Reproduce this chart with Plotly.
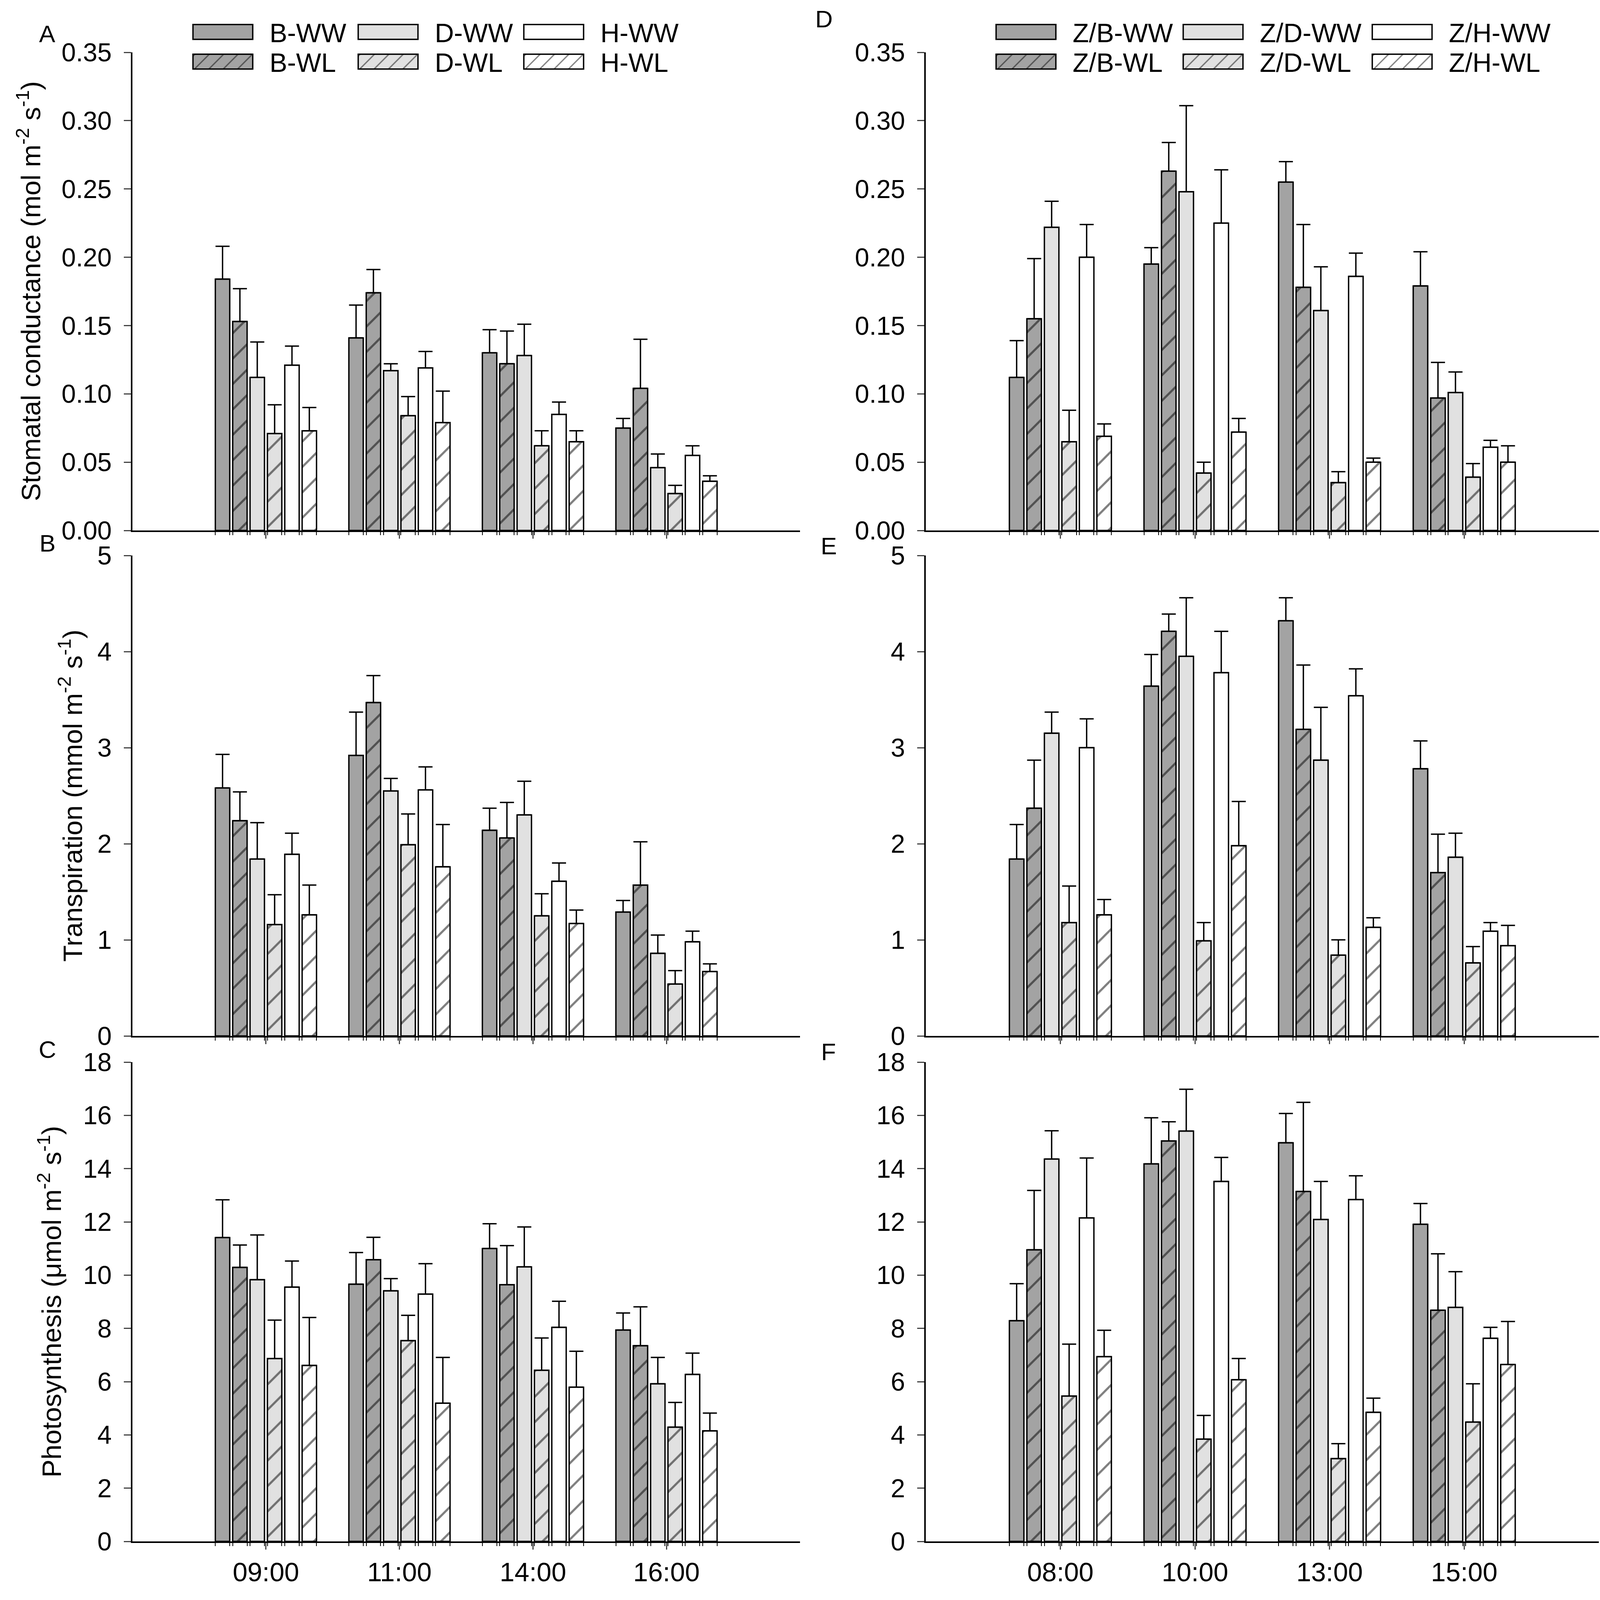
import plotly.graph_objects as go

# ---------------- data ----------------
SERIES_LEFT = ["B-WW", "B-WL", "D-WW", "D-WL", "H-WW", "H-WL"]
SERIES_RIGHT = ["Z/B-WW", "Z/B-WL", "Z/D-WW", "Z/D-WL", "Z/H-WW", "Z/H-WL"]
TIMES_LEFT = ["09:00", "11:00", "14:00", "16:00"]
TIMES_RIGHT = ["08:00", "10:00", "13:00", "15:00"]

# rows = series (WW/WL for B, D, H), columns = time points
gs_left = [
    [0.184, 0.141, 0.130, 0.075],
    [0.153, 0.174, 0.122, 0.104],
    [0.112, 0.117, 0.128, 0.046],
    [0.071, 0.084, 0.062, 0.027],
    [0.121, 0.119, 0.085, 0.055],
    [0.073, 0.079, 0.065, 0.036],
]
gs_left_err = [
    [0.024, 0.024, 0.017, 0.007],
    [0.024, 0.017, 0.024, 0.036],
    [0.026, 0.005, 0.023, 0.010],
    [0.021, 0.014, 0.011, 0.006],
    [0.014, 0.012, 0.009, 0.007],
    [0.017, 0.023, 0.008, 0.004],
]
tr_left = [
    [2.58, 2.92, 2.14, 1.29],
    [2.24, 3.47, 2.06, 1.57],
    [1.84, 2.55, 2.30, 0.86],
    [1.16, 1.99, 1.25, 0.54],
    [1.89, 2.56, 1.61, 0.98],
    [1.26, 1.76, 1.17, 0.67],
]
tr_left_err = [
    [0.35, 0.45, 0.23, 0.12],
    [0.30, 0.28, 0.37, 0.45],
    [0.38, 0.13, 0.35, 0.19],
    [0.31, 0.32, 0.23, 0.14],
    [0.22, 0.24, 0.19, 0.11],
    [0.31, 0.44, 0.14, 0.08],
]
pn_left = [
    [11.41, 9.66, 11.00, 7.94],
    [10.29, 10.58, 9.64, 7.35],
    [9.83, 9.41, 10.31, 5.92],
    [6.87, 7.54, 6.43, 4.29],
    [9.55, 9.29, 8.04, 6.27],
    [6.61, 5.19, 5.79, 4.15],
]
pn_left_err = [
    [1.42, 1.19, 0.93, 0.64],
    [0.84, 0.84, 1.47, 1.46],
    [1.68, 0.46, 1.50, 0.99],
    [1.44, 0.95, 1.21, 0.93],
    [0.98, 1.14, 0.98, 0.80],
    [1.80, 1.72, 1.35, 0.67],
]
gs_right = [
    [0.112, 0.195, 0.255, 0.179],
    [0.155, 0.263, 0.178, 0.097],
    [0.222, 0.248, 0.161, 0.101],
    [0.065, 0.042, 0.035, 0.039],
    [0.200, 0.225, 0.186, 0.061],
    [0.069, 0.072, 0.050, 0.050],
]
gs_right_err = [
    [0.027, 0.012, 0.015, 0.025],
    [0.044, 0.021, 0.046, 0.026],
    [0.019, 0.063, 0.032, 0.015],
    [0.023, 0.008, 0.008, 0.010],
    [0.024, 0.039, 0.017, 0.005],
    [0.009, 0.010, 0.003, 0.012],
]
tr_right = [
    [1.84, 3.64, 4.32, 2.78],
    [2.37, 4.21, 3.19, 1.70],
    [3.15, 3.95, 2.87, 1.86],
    [1.18, 0.99, 0.84, 0.76],
    [3.00, 3.78, 3.54, 1.09],
    [1.26, 1.98, 1.13, 0.94],
]
tr_right_err = [
    [0.36, 0.33, 0.24, 0.29],
    [0.50, 0.18, 0.67, 0.40],
    [0.22, 0.61, 0.55, 0.25],
    [0.38, 0.19, 0.16, 0.17],
    [0.30, 0.43, 0.28, 0.09],
    [0.16, 0.46, 0.10, 0.21],
]
pn_right = [
    [8.29, 14.18, 14.97, 11.91],
    [10.95, 15.04, 13.14, 8.68],
    [14.36, 15.41, 12.09, 8.79],
    [5.46, 3.84, 3.11, 4.48],
    [12.15, 13.52, 12.84, 7.63],
    [6.94, 6.07, 4.85, 6.64],
]
pn_right_err = [
    [1.39, 1.73, 1.10, 0.78],
    [2.23, 0.72, 3.35, 2.12],
    [1.06, 1.57, 1.43, 1.34],
    [1.95, 0.89, 0.56, 1.44],
    [2.25, 0.90, 0.89, 0.41],
    [0.99, 0.80, 0.53, 1.62],
]

Y_TITLES = [
    "Stomatal conductance (mol m<sup>-2</sup> s<sup>-1</sup>)",
    "Transpiration (mmol m<sup>-2</sup> s<sup>-1</sup>)",
    "Photosynthesis (\u03bcmol m<sup>-2</sup> s<sup>-1</sup>)",
]
X_TITLE = "Time"
Y_RANGES = [(0, 0.35), (0, 5), (0, 18)]
Y_DTICK = [0.05, 1, 2]
Y_FORMAT = [".2f", "d", "d"]
PANEL_LETTERS = ["A", "B", "C", "D", "E", "F"]

# ---------------- style ----------------
FONT = "Liberation Sans, Arial, sans-serif"
FILLS = ["#a3a3a3", "#a3a3a3", "#e1e1e1", "#e1e1e1", "#ffffff", "#ffffff"]
HATCH = [False, True, False, True, False, True]
BARGAP = 0.22
GROUPGAP = 0.17

W, H = 4106, 4200
MARGIN_B = 150          # room for the "Time" titles below the bottom axes
PLOT_H = H - MARGIN_B


def py(px):
    # pixel row (from the top of the figure) -> paper y
    return (PLOT_H - px) / PLOT_H


X_DOMAINS = [(339 / W, 2048 / W), (2370 / W, 4093 / W)]
Y_DOMAINS = [(py(1358), py(134)), (py(2652), py(1422)), (py(3946), py(2719))]
Y_TITLE_X = [74, 181, 127]      # centre of each rotated y title, px from left

panels = [
    (SERIES_LEFT, TIMES_LEFT, gs_left, gs_left_err),
    (SERIES_LEFT, TIMES_LEFT, tr_left, tr_left_err),
    (SERIES_LEFT, TIMES_LEFT, pn_left, pn_left_err),
    (SERIES_RIGHT, TIMES_RIGHT, gs_right, gs_right_err),
    (SERIES_RIGHT, TIMES_RIGHT, tr_right, tr_right_err),
    (SERIES_RIGHT, TIMES_RIGHT, pn_right, pn_right_err),
]

# small ticks under each bar edge, as in the original
slot = (1 - BARGAP) / 6
edges = []
for c in range(1, 5):
    for k in range(6):
        left = c - (1 - BARGAP) / 2 + k * slot
        edges += [left + slot * GROUPGAP / 2, left + slot * (1 - GROUPGAP / 2)]


def legend_key(col, s):
    # one legend per swatch: 3 columns x 2 rows per panel
    idx = col * 6 + (s % 2) * 3 + s // 2 + 1
    return "legend" if idx == 1 else f"legend{idx}"


fig = go.Figure()

for p, (series, times, means, errs) in enumerate(panels):
    col, row = divmod(p, 3)
    n = p + 1
    xa = "x" if n == 1 else f"x{n}"
    ya = "y" if n == 1 else f"y{n}"
    xs = list(range(1, len(times) + 1))
    for s, name in enumerate(series):
        pattern = dict(shape="/" if HATCH[s] else "", fgcolor="black",
                       bgcolor=FILLS[s], size=46, solidity=0.12)
        fig.add_trace(go.Bar(
            x=xs, y=means[s], name=name,
            xaxis=xa, yaxis=ya,
            offsetgroup=str(s),
            marker=dict(color=FILLS[s], line=dict(color="black", width=3.5),
                        pattern=pattern),
            error_y=dict(type="data", array=errs[s], arrayminus=[0] * len(xs),
                         symmetric=False, color="black", thickness=3.5, width=18),
            showlegend=(row == 0),
            legend=legend_key(col, s),
        ))

    xkey = "xaxis" if n == 1 else f"xaxis{n}"
    ykey = "yaxis" if n == 1 else f"yaxis{n}"
    fig.layout[xkey] = dict(
        domain=X_DOMAINS[col], anchor=ya, range=[0, 5],
        tickmode="array", tickvals=xs, ticktext=times,
        showticklabels=(row == 2), ticks="outside", ticklen=17, tickwidth=3,
        minor=dict(tickmode="array", tickvals=edges, ticks="outside",
                   ticklen=8, tickwidth=2, tickcolor="black"),
        showline=True, linecolor="black", linewidth=3.5,
        showgrid=False, zeroline=False,
        tickfont=dict(family=FONT, size=68, color="black"),
        automargin=False,
    )
    fig.layout[ykey] = dict(
        domain=Y_DOMAINS[row], anchor=xa, range=list(Y_RANGES[row]),
        dtick=Y_DTICK[row], tick0=0, tickformat=Y_FORMAT[row],
        ticks="outside", ticklen=18, tickwidth=3, ticklabelstandoff=18,
        showline=True, linecolor="black", linewidth=3.5,
        showgrid=False, zeroline=False,
        tickfont=dict(family=FONT, size=66, color="black"),
        automargin=False,
    )

# axis titles, placed like the original (left column only / bottom row only)
for row, text in enumerate(Y_TITLES):
    fig.add_annotation(x=Y_TITLE_X[row] / W, y=sum(Y_DOMAINS[row]) / 2,
                       xref="paper", yref="paper", xanchor="center", yanchor="middle",
                       text=text, textangle=-90, showarrow=False,
                       font=dict(family=FONT, size=69, color="black"))
for dom in X_DOMAINS:
    fig.add_annotation(x=sum(dom) / 2, y=py(4135), xref="paper", yref="paper",
                       xanchor="center", yanchor="middle",
                       text=X_TITLE, showarrow=False,
                       font=dict(family=FONT, size=67, color="black"))

# legend swatch boxes: left edges (px) of the three columns, row centres (px)
swatch_left = [[505, 928, 1352], [2561, 3040, 3524]]
swatch_rows = [82, 158]
for col in range(2):
    for r in range(2):
        for c in range(3):
            idx = col * 6 + r * 3 + c + 1
            key = "legend" if idx == 1 else f"legend{idx}"
            fig.layout[key] = dict(
                x=(swatch_left[col][c] - 14) / W, y=py(swatch_rows[r]),
                xanchor="left", yanchor="middle",
                orientation="v", bgcolor="rgba(0,0,0,0)", borderwidth=0,
                itemwidth=189,
                font=dict(family=FONT, size=68, color="black"),
            )

letter_pos = [(121, 86), (121, 1391), (121, 2687), (2109, 49), (2121, 1397), (2121, 2692)]
for letter, (lx, ly) in zip(PANEL_LETTERS, letter_pos):
    fig.add_annotation(x=lx / W, y=py(ly), xref="paper", yref="paper",
                       xanchor="center", yanchor="middle",
                       text=letter, showarrow=False,
                       font=dict(family=FONT, size=62, color="black"))

fig.update_layout(
    width=W, height=H,
    margin=dict(l=0, r=0, t=0, b=MARGIN_B),
    barmode="group", bargap=BARGAP, bargroupgap=GROUPGAP,
    plot_bgcolor="white", paper_bgcolor="white",
    font=dict(family=FONT, color="black"),
)

# the page body keeps its default 8px margin, which pushes the figure past the
# window edge; drop it. Then stretch plotly's tiny legend swatches to the wide
# hatched boxes of the original figure.
post = """
document.body.style.margin = '0';
var H = 46;
var hatch = 'M-' + H/4 + ',' + H/4 + 'l' + H/2 + ',-' + H/2 +
            'M0,' + H + 'L' + H + ',0' +
            'M' + 3*H/4 + ',' + 5*H/4 + 'l' + H/2 + ',-' + H/2;
document.querySelectorAll('g.legendpoints path').forEach(function(p){
    p.setAttribute('d', 'M56.5,19H-96.5V-19H56.5Z');
    var f = p.style.fill || p.getAttribute('fill') || '';
    var m = /url\\(["']?#([^"')]+)["']?\\)/.exec(f);
    if (!m) return;
    var pat = document.getElementById(m[1]);
    if (!pat) return;
    pat.setAttribute('width', H);
    pat.setAttribute('height', H);
    pat.querySelectorAll('rect').forEach(function(r){
        r.setAttribute('width', H); r.setAttribute('height', H);
    });
    pat.querySelectorAll('path').forEach(function(q){
        q.setAttribute('d', hatch);
        q.style.strokeWidth = '4px';
    });
});
"""
fig.write_html("out.html", post_script=post, config={"displayModeBar": False})
